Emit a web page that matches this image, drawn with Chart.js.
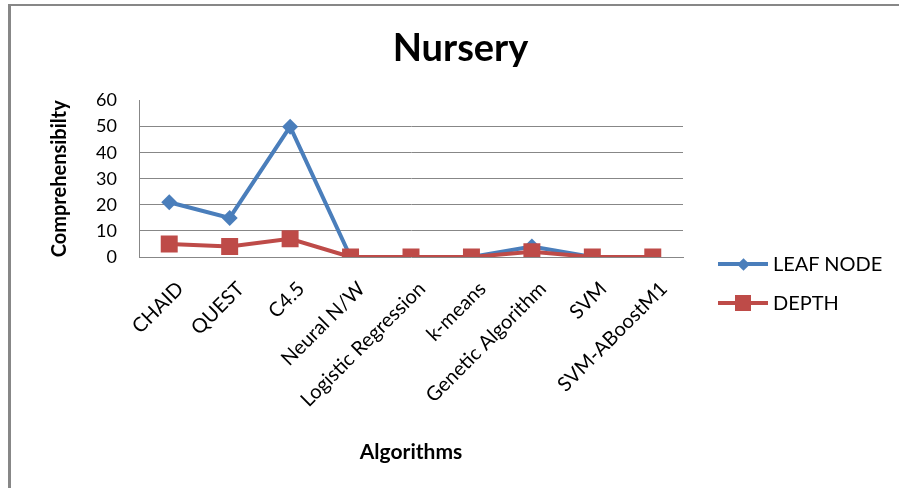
<!DOCTYPE html>
<html>
<head>
<meta charset="utf-8">
<script src="https://cdn.jsdelivr.net/npm/chart.js@4"></script>
<style>
  html, body { margin: 0; padding: 0; background: #fff; }
  #wrap { position: relative; width: 899px; height: 488px; overflow: hidden; }
  #frame {
    position: absolute; left: 8px; top: 4px; width: 960px; height: 600px;
    border-top: 2px solid #878787; border-left: 3px solid #878787;
    pointer-events: none;
  }
  #legend { position: absolute; left: 718px; top: 249px; font-family: Lato, 'Open Sans', sans-serif; font-size: 20px; color: #000; }
  .item { position: relative; height: 39px; }
  .item .ln { position: absolute; left: 0; top: 13px; width: 50px; height: 4px; }
  .item .mk { position: absolute; }
  .item .tx { position: absolute; left: 55px; top: 2px; white-space: nowrap; }
</style>
</head>
<body>
<div id="wrap">
  <canvas id="chart" width="899" height="488"></canvas>
  <div id="frame"></div>
  <div id="legend"></div>
</div>
<script>
const categories = ['CHAID', 'QUEST', 'C4.5', 'Neural N/W', 'Logistic Regression', 'k-means', 'Genetic Algorithm', 'SVM', 'SVM-ABoostM1'];
const leafNode = [21, 15, 50, 0, 0, 0, 4, 0, 0];
const depth    = [5, 4, 7, 0, 0, 0, 2, 0, 0];
const yTicks   = [0, 10, 20, 30, 40, 50, 60];

const BLUE = '#4A7EBB';
const RED  = '#BE4B48';
const GRID = '#878787';
const FONT = "Lato, 'Open Sans', sans-serif";

const datasets = [
  {
    label: 'LEAF NODE',
    data: leafNode,
    borderColor: BLUE,
    backgroundColor: BLUE,
    borderWidth: 4,
    pointStyle: 'rectRot',
    pointRadius: 8,
    pointBorderWidth: 0,
    tension: 0,
    order: 1,
  },
  {
    label: 'DEPTH',
    data: depth,
    borderColor: RED,
    backgroundColor: RED,
    borderWidth: 4,
    pointStyle: 'rect',
    pointRadius: 12,
    pointBorderWidth: 0,
    tension: 0,
    order: 0,
  },
];

new Chart(document.getElementById('chart'), {
  type: 'line',
  data: { labels: categories, datasets },
  options: {
    responsive: false,
    animation: false,
    layout: { padding: { left: 22, top: 0, right: 0, bottom: 0 } },
    scales: {
      x: {
        offset: true,
        grid: { display: false, drawTicks: false },
        border: { display: true, color: GRID, width: 1 },
        ticks: {
          autoSkip: false,
          minRotation: 45,
          maxRotation: 45,
          padding: 20,
          labelOffset: 11,
          color: '#000',
          font: { family: FONT, size: 20 },
        },
        title: {
          display: true,
          text: 'Algorithms',
          color: '#000',
          padding: 23,
          font: { family: FONT, size: 21, weight: 'bold' },
        },
        afterFit: scale => { scale.height = 231; },
      },
      y: {
        min: 0,
        max: 60,
        afterBuildTicks: scale => { scale.ticks = yTicks.map(v => ({ value: v })); },
        grid: {
          drawTicks: false,
          color: ctx => (ctx.tick && (ctx.tick.value === 60 || ctx.tick.value === 0)) ? 'rgba(0,0,0,0)' : GRID,
        },
        border: { display: true, color: GRID, width: 1 },
        ticks: {
          padding: 22,
          color: '#000',
          font: { family: FONT, size: 18 },
        },
        title: {
          display: true,
          text: 'Comprehensibilty',
          color: '#000',
          padding: 26,
          font: { family: FONT, size: 20, weight: 'bold' },
        },
        afterFit: scale => { scale.width = 117; },
      },
      // empty right-hand axis: keeps room for the legend without moving the title
      side: {
        type: 'linear',
        position: 'right',
        grid: { display: false, drawTicks: false },
        border: { display: false },
        ticks: { display: false },
        afterFit: scale => { scale.width = 216; },
      },
    },
    plugins: {
      legend: { display: false },
      tooltip: { enabled: false },
      title: {
        display: true,
        text: 'Nursery',
        color: '#000',
        padding: { top: 26, bottom: 29 },
        font: { family: FONT, size: 38, weight: 'bold', lineHeight: 1.2 },
      },
    },
  },
});

// legend with line + marker, like the original
const legendEl = document.getElementById('legend');
datasets.forEach(ds => {
  const item = document.createElement('div');
  item.className = 'item';
  const ln = document.createElement('div');
  ln.className = 'ln';
  ln.style.background = ds.borderColor;
  const mk = document.createElement('div');
  mk.className = 'mk';
  const s = ds.pointStyle === 'rect' ? 16 : 9;
  mk.style.width = s + 'px';
  mk.style.height = s + 'px';
  mk.style.left = (25 - s / 2) + 'px';
  mk.style.top = (15 - s / 2) + 'px';
  mk.style.background = ds.backgroundColor;
  if (ds.pointStyle === 'rectRot') mk.style.transform = 'rotate(45deg)';
  const tx = document.createElement('div');
  tx.className = 'tx';
  tx.textContent = ds.label;
  item.append(ln, mk, tx);
  legendEl.appendChild(item);
});
</script>
</body>
</html>
